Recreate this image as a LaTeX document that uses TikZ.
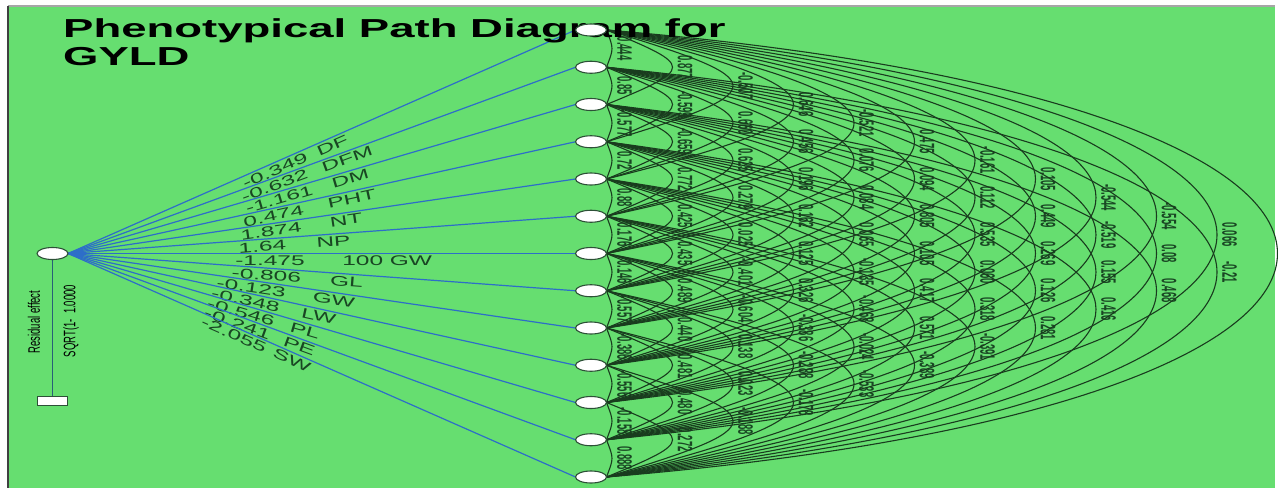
\documentclass[tikz,border=0pt]{standalone}
\usepackage{fontspec}
\setmainfont{Liberation Sans}
\usepackage{graphicx}
\usetikzlibrary{shapes.geometric, positioning, calc}
\definecolor{panelgreen}{RGB}{102,222,112}
\definecolor{pathblue}{RGB}{45,110,200}
\definecolor{arcgreen}{RGB}{25,60,30}
\definecolor{labelgreen}{RGB}{25,70,35}
\definecolor{nodeedge}{RGB}{45,80,55}
\definecolor{residteal}{RGB}{40,95,120}
\pgfdeclarelayer{panel}
\pgfdeclarelayer{edges}
\pgfsetlayers{panel,edges,main}
\newcommand{\wide}[1]{\scalebox{1.75}[1]{#1}}
\newcommand{\tall}[1]{\scalebox{1}[1.75]{#1}}
\newcommand{\taller}[1]{\scalebox{1}[2.2]{#1}}
% one column of correlation arcs: #1 = span, #2 = values
\newcommand{\corrcol}[2]{%
  \foreach \cval [count=\ia] in {#2} {
    \pgfmathtruncatemacro{\ib}{\ia+#1}
    \pgfmathsetmacro{\cw}{4/3*(60.5*#1-55)}
    \pgfmathsetmacro{\ch}{20.49*#1-1.192*#1*#1}
    \draw[corrarc] (n\ia.east) .. controls +(\cw,\ch) and +(\cw,-\ch) .. (n\ib.east)
      node[corrval, pos=0.5] {\taller{\cval}};
  }}

\begin{document}
\begin{tikzpicture}[x=1pt, y=-1pt,
    every node/.style={font=\fontsize{14}{16}\selectfont},
    trait/.style={ellipse, draw=nodeedge, fill=white, line width=1.1pt, minimum width=31pt, minimum height=12pt, inner sep=0pt, outer sep=0pt},
    resbox/.style={rectangle, draw=nodeedge, fill=white, line width=1.1pt, minimum width=30pt, minimum height=9pt, inner sep=0pt},
    pathline/.style={pathblue, line width=1.2pt},
    pathval/.style={sloped, below, inner sep=2pt, text=labelgreen},
    corrarc/.style={arcgreen, line width=1.1pt},
    corrval/.style={rotate=-90, anchor=south, inner sep=4.5pt, text=labelgreen, font=\fontsize{9.5}{10}\selectfont\bfseries},
    sidenote/.style={rotate=90, inner sep=0pt, font=\fontsize{9.5}{10}\selectfont}
]
\useasboundingbox (0,0) rectangle (1278,488);

\begin{pgfonlayer}{panel}
\fill[white] (0,0) rectangle (1278,488);
\fill[panelgreen] (8,6) rectangle (1275,488);
\draw[gray!70, line width=1.5pt] (8,6) -- (1275,6);
\draw[black!75, line width=2pt] (8,6) -- (8,488);
\end{pgfonlayer}

\node[font=\fontsize{26}{28}\selectfont\bfseries, anchor=north west, align=left, inner sep=0pt] (title) at (63,18) {\wide{Phenotypical Path Diagram for}\\\wide{GYLD}};

% dependent trait and residual
\node[trait] (gyld) at (52.5,253.5) {};
\node[resbox, below=136pt of gyld] (resbox) {};
\node[sidenote] (restext) at (34,322) {\tall{Residual effect}};
\node[sidenote] (resval) at (71,321) {\tall{SQRT(1-\ \ 1.0000}};

% component traits
\foreach \k in {1,...,13}
  \node[trait] (n\k) at (591,{30+37.25*(\k-1)}) {};

\begin{pgfonlayer}{edges}
\draw[residteal, line width=1.8pt] (gyld) -- (resbox);

\foreach \trt/\dval/\pa/\pb [count=\k] in {DF/-0.349/.402/.515, DFM/-0.632/.402/.545,
    DM/-1.161/.412/.552, PHT/0.474/.402/.556, NT/1.874/.398/.546, NP/1.64/.382/.522,
    100 GW/-1.475/.398/.629, GL/-0.806/.392/.550, GW/-0.123/.363/.526, LW/-0.348/.353/.497,
    PL/-0.546/.345/.471, PE/-0.241/.339/.461, SW/-2.055/.333/.447} {
  \draw[pathline] (gyld.east) -- (n\k.west)
    node[pathval, pos=\pa] {\wide{\dval}}
    node[pathval, pos=\pb] {\wide{\trt}};
}

% correlations between component traits
\corrcol{1}{0.444,0.85,-0.577,0.72,0.88,0.176,0.146,-0.557,-0.386,-0.556,-0.158,0.888}
\corrcol{2}{0.877,-0.599,-0.659,0.772,0.425,0.435,0.489,-0.440,-0.481,0.480,0.272}
\corrcol{3}{-0.507,0.660,0.625,0.279,0.025,-0.401,-0.604,0.138,0.023,-0.188}
\corrcol{4}{0.646,0.456,0.196,0.162,0.125,0.326,-0.386,-0.288,-0.178}
\corrcol{5}{-0.521,0.076,0.084,0.065,-0.135,-0.468,-0.024,-0.533}
\corrcol{6}{0.475,0.094,0.805,0.105,0.417,0.571,-0.389}
\corrcol{7}{-0.161,0.112,0.535,0.060,0.318,-0.391}
\corrcol{8}{0.105,0.449,0.269,0.126,0.281}
\corrcol{9}{-0.544,-0.519,0.155,0.416}
\corrcol{10}{-0.554,0.08,0.468}
\corrcol{11}{0.066,-0.21}
\draw[corrarc] (n1.east) .. controls +({4/3*(60.5*12-55)},74.3) and +({4/3*(60.5*12-55)},-74.3) .. (n13.east);
\end{pgfonlayer}

\end{tikzpicture}
\end{document}
